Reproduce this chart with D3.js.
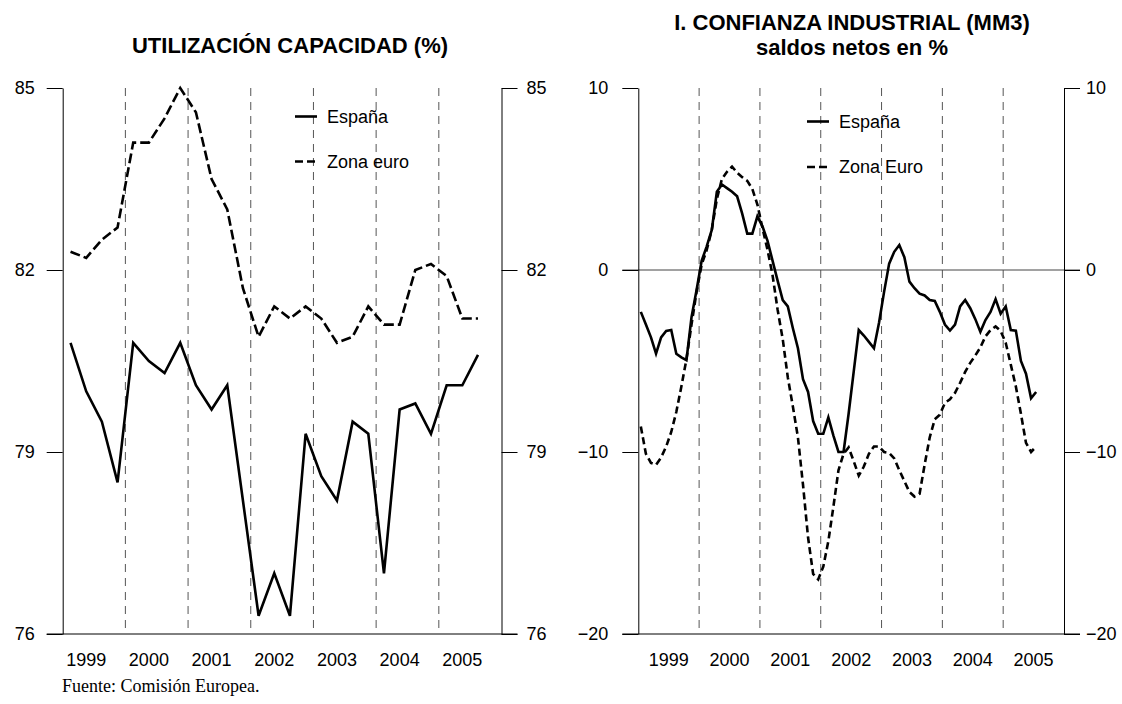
<!DOCTYPE html>
<html><head><meta charset="utf-8">
<script src="https://cdn.jsdelivr.net/npm/d3@7"></script>
<style>
body{margin:0;background:#fff;}
svg{display:block;font-family:Arial,"Liberation Sans",sans-serif;}
</style></head><body>
<svg id="c" width="1122" height="704"></svg>
<script>
// ---- data ----
const years = [1999, 2000, 2001, 2002, 2003, 2004, 2005];
const yearBreaks = [2000, 2001, 2002, 2003, 2004, 2005];
// quarterly, 1999Q1 .. 2005Q3
const capEspana = [80.8,80.0,79.5,78.5, 80.8,80.5,80.3,80.8, 80.1,79.7,80.1,78.2, 76.3,77.0,76.3,79.3, 78.6,78.2,79.5,79.3, 77.0,79.7,79.8,79.3, 80.1,80.1,80.6];
const capEuro   = [82.3,82.2,82.5,82.7, 84.1,84.1,84.5,85.0, 84.6,83.5,83.0,81.7, 80.9,81.4,81.2,81.4, 81.2,80.8,80.9,81.4, 81.1,81.1,82.0,82.1, 81.9,81.2,81.2];
const capTicks = [76, 79, 82, 85];
// monthly, 1999-01 .. 2005-07
const confEspana = [-2.3,-3.0,-3.7,-4.6,-3.7,-3.35,-3.3,-4.6,-4.8,-4.95,-2.6,-1.1,
  0.5,1.3,2.2,4.3,4.7,4.5,4.3,4.05,3.1,2.0,2.0,2.95,
  2.4,1.6,0.5,-0.6,-1.65,-2.0,-3.2,-4.3,-6.0,-6.7,-8.3,-9.0,
  -9.0,-8.1,-9.1,-10.0,-10.0,-7.9,-5.6,-3.3,-3.6,-3.95,-4.3,-2.9,
  -1.2,0.35,1.0,1.37,0.7,-0.64,-1.0,-1.3,-1.4,-1.65,-1.7,-2.3,
  -3.0,-3.33,-3.0,-2.0,-1.65,-2.1,-2.7,-3.4,-2.75,-2.3,-1.6,-2.4,
  -2.0,-3.3,-3.33,-5.0,-5.7,-7.05,-6.7];
const confEuro = [-8.6,-10.1,-10.6,-10.7,-10.3,-9.7,-8.9,-7.8,-6.4,-4.9,-3.0,-1.2,
  0.3,1.1,2.2,3.9,5.0,5.4,5.68,5.35,5.1,4.9,4.45,3.6,
  2.3,1.1,-0.3,-2.2,-3.8,-5.9,-7.5,-9.2,-11.8,-14.7,-16.7,-17.0,
  -16.3,-14.9,-13.0,-11.0,-10.1,-9.75,-10.5,-11.3,-10.8,-10.1,-9.7,-9.7,
  -10.0,-10.05,-10.35,-11.0,-11.6,-12.2,-12.45,-12.3,-10.7,-9.2,-8.2,-7.95,
  -7.3,-7.1,-6.75,-6.2,-5.6,-5.1,-4.7,-4.25,-3.65,-3.3,-3.1,-3.35,
  -4.0,-5.2,-6.4,-7.9,-9.5,-10.0,-9.7];
const confTicks = [-20, -10, 0, 10];

const svg = d3.select("#c");
const FONT = 18;

function panel(o){
  const g = svg.append("g");
  const x = d3.scaleLinear().domain([1999, 2006]).range([o.x0, o.x1]);
  const y = d3.scaleLinear().domain(o.ydom).range([634, 88]);
  // year separators
  g.selectAll("line.yr").data(yearBreaks).join("line")
    .attr("x1", d => x(d)).attr("x2", d => x(d)).attr("y1", y.range()[1]).attr("y2", y.range()[0])
    .attr("stroke", "#555").attr("stroke-width", 1).attr("stroke-dasharray", "8,6");
  if (o.zero) {
    g.append("line").attr("x1", o.x0 - 16).attr("x2", o.x1 + 16)
      .attr("y1", y(0)).attr("y2", y(0)).attr("stroke", "#444").attr("stroke-width", 1);
  }
  // axes
  const left = g.append("g").attr("transform", `translate(${o.x0},0)`)
    .call(d3.axisLeft(y).tickValues(o.ticks).tickSize(16).tickSizeOuter(0).tickPadding(o.padL));
  const right = g.append("g").attr("transform", `translate(${o.x1},0)`)
    .call(d3.axisRight(y).tickValues(o.ticks).tickSize(16).tickSizeOuter(0).tickPadding(o.padR));
  [left, right].forEach(a => {
    a.selectAll("text").attr("font-size", FONT).attr("font-family", "Arial, 'Liberation Sans', sans-serif").attr("fill", "#000");
    a.selectAll("line,path").attr("stroke", "#000");
  });
  g.append("line").attr("x1", o.x0 - 16).attr("x2", o.x1 + 16)
    .attr("y1", y(o.ydom[0])).attr("y2", y(o.ydom[0])).attr("stroke", "#000");
  // year labels
  g.selectAll("text.yl").data(years).join("text")
    .attr("x", d => x(d + o.labelPos)).attr("y", 666)
    .attr("text-anchor", "middle").attr("font-size", FONT).text(d => d);
  // series
  const step = o.perYear;
  const line = d3.line().x((d, i) => x(1999 + (i + 0.5) / step)).y(d => y(d));
  g.append("path").datum(o.s1).attr("d", line).attr("fill", "none")
    .attr("stroke", "#000").attr("stroke-width", 2.6).attr("stroke-linejoin", "miter");
  g.append("path").datum(o.s2).attr("d", line).attr("fill", "none")
    .attr("stroke", "#000").attr("stroke-width", 2.6).attr("stroke-dasharray", o.dash);
  // legend
  const lg = g.append("g");
  o.legend.forEach((name, k) => {
    const ly = o.legY[k];
    lg.append("line").attr("x1", o.legX).attr("x2", o.legX + 22).attr("y1", ly).attr("y2", ly)
      .attr("stroke", "#000").attr("stroke-width", 2.6).attr("stroke-dasharray", k ? "8,4" : null);
    lg.append("text").attr("x", o.legX + 32).attr("y", ly).attr("dy", "0.35em")
      .attr("font-size", FONT).text(name);
  });
  // title
  o.title.forEach((t, k) => {
    g.append("text").attr("x", o.titleX).attr("y", o.titleY[k]).attr("text-anchor", "middle")
      .attr("font-size", 22).attr("font-weight", "bold").text(t);
  });
}

panel({x0: 62.7, x1: 501.5, ydom: [76, 85], ticks: capTicks, padL: 12, padR: 9,
  zero: false, labelPos: 0.375, perYear: 4, s1: capEspana, s2: capEuro, dash: "10,4",
  legend: ["España", "Zona euro"], legX: 295, legY: [116.5, 161.5],
  title: ["UTILIZACIÓN CAPACIDAD (%)"], titleX: 290, titleY: [53]});

panel({x0: 638.3, x1: 1064, ydom: [-20, 10], ticks: confTicks, padL: 14, padR: 6,
  zero: true, labelPos: 0.5, perYear: 12, s1: confEspana, s2: confEuro, dash: "7,4",
  legend: ["España", "Zona Euro"], legX: 807, legY: [121.5, 167],
  title: ["I. CONFIANZA INDUSTRIAL (MM3)", "saldos netos en %"], titleX: 852, titleY: [30, 55]});

svg.append("text").attr("x", 62).attr("y", 692)
  .attr("font-family", "'Times New Roman', 'Liberation Serif', serif").attr("font-size", 18)
  .text("Fuente: Comisión Europea.");
</script>
</body></html>
